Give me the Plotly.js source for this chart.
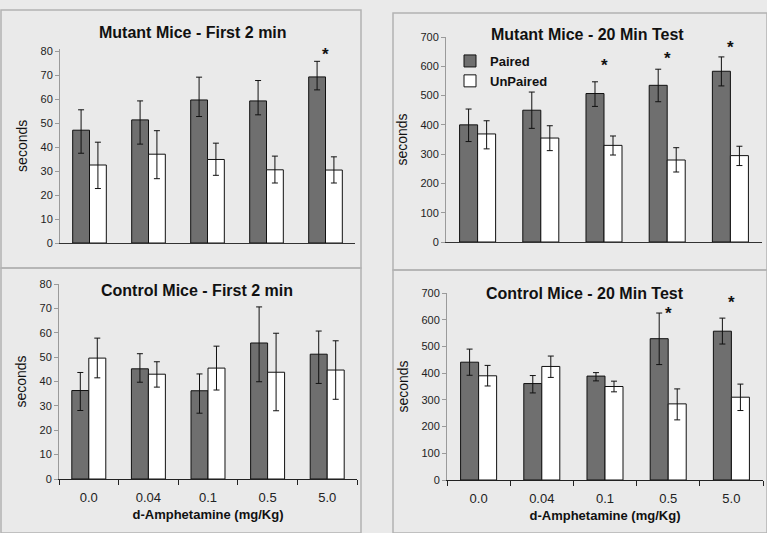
<!DOCTYPE html>
<html>
<head>
<meta charset="utf-8">
<script src="https://cdn.plot.ly/plotly-3.0.1.min.js"></script>
<style>html,body{margin:0;padding:0;background:#e9e9e9;}#chart{width:767px;height:533px;}</style>
</head>
<body>
<div id="chart"></div>
<script>
// ---- data ----
const doses = ["0.0", "0.04", "0.1", "0.5", "5.0"];
const seriesNames = ["Paired", "UnPaired"];

// Mutant Mice - First 2 min
const mutant2Paired     = [47, 51.3, 59.6, 59.2, 69.2];
const mutant2PairedHi   = [55.5, 59.2, 69.1, 67.7, 75.7];
const mutant2PairedLo   = [37.4, 41.2, 52.7, 53.4, 63.8];
const mutant2Unpaired   = [32.5, 37, 34.8, 30.5, 30.4];
const mutant2UnpairedHi = [42, 46.8, 41.6, 36.2, 35.9];
const mutant2UnpairedLo = [22.7, 26.8, 28.2, 25, 25];
const mutant2Stars      = [null, null, null, null, 80.4];

// Mutant Mice - 20 Min Test
const mutant20Paired     = [400, 450, 507, 535, 583];
const mutant20PairedHi   = [454, 512, 547, 590, 632];
const mutant20PairedLo   = [343, 388, 463, 479, 533];
const mutant20Unpaired   = [369, 355, 330, 280, 295];
const mutant20UnpairedHi = [414, 397, 362, 322, 327];
const mutant20UnpairedLo = [318, 312, 297, 239, 261];
const mutant20Stars      = [null, null, 615, 640, 678];

// Control Mice - First 2 min
const control2Paired     = [36.3, 45.2, 36.2, 55.8, 51.2];
const control2PairedHi   = [43.7, 51.4, 43.1, 70.6, 60.7];
const control2PairedLo   = [28.1, 39.7, 27, 39.9, 39.2];
const control2Unpaired   = [49.6, 43, 45.5, 43.8, 44.7];
const control2UnpairedHi = [57.8, 48.1, 54.5, 59.8, 56.7];
const control2UnpairedLo = [41.5, 37.7, 36.5, 28, 32.7];
const control2Stars      = [null, null, null, null, null];

// Control Mice - 20 Min Test
const control20Paired     = [441, 361, 389, 529, 557];
const control20PairedHi   = [490, 391, 402, 625, 606];
const control20PairedLo   = [392, 326, 371, 432, 509];
const control20Unpaired   = [390, 425, 350, 285, 310];
const control20UnpairedHi = [429, 464, 370, 341, 359];
const control20UnpairedLo = [352, 384, 330, 225, 260];
const control20Stars      = [null, null, null, 637, 681];

const panelTitles = ["Mutant Mice - First 2 min", "Mutant Mice - 20 Min Test",
                     "Control Mice - First 2 min", "Control Mice - 20 Min Test"];
const xTitle = "d-Amphetamine (mg/Kg)";
const yTitle = "seconds";

// ---- build ----
const FONT = "Liberation Sans, Arial, sans-serif";
const fills = ["#6f6f6f", "#ffffff"];

function barTrace(name, idx, y, hi, lo, axis, showLegend) {
  return {
    type: "bar", name: name, x: doses, y: y,
    xaxis: "x" + axis, yaxis: "y" + axis,
    showlegend: showLegend, legendgroup: name,
    marker: {color: fills[idx], line: {color: "#111", width: 1}},
    error_y: {type: "data", symmetric: false,
      array: hi.map((h, i) => +(h - y[i]).toFixed(2)),
      arrayminus: lo.map((l, i) => +(y[i] - l).toFixed(2)),
      color: "#111", thickness: 1, width: 3},
    hoverinfo: "x+y"
  };
}

const panels = [
  {p: mutant2Paired, ph: mutant2PairedHi, pl: mutant2PairedLo, u: mutant2Unpaired, uh: mutant2UnpairedHi, ul: mutant2UnpairedLo, s: mutant2Stars, ax: "", leg: false},
  {p: mutant20Paired, ph: mutant20PairedHi, pl: mutant20PairedLo, u: mutant20Unpaired, uh: mutant20UnpairedHi, ul: mutant20UnpairedLo, s: mutant20Stars, ax: "2", leg: true},
  {p: control2Paired, ph: control2PairedHi, pl: control2PairedLo, u: control2Unpaired, uh: control2UnpairedHi, ul: control2UnpairedLo, s: control2Stars, ax: "3", leg: false},
  {p: control20Paired, ph: control20PairedHi, pl: control20PairedLo, u: control20Unpaired, uh: control20UnpairedHi, ul: control20UnpairedLo, s: control20Stars, ax: "4", leg: false}
];

const traces = [];
const annotations = [];
panels.forEach(pn => {
  traces.push(barTrace(seriesNames[0], 0, pn.p, pn.ph, pn.pl, pn.ax, pn.leg));
  traces.push(barTrace(seriesNames[1], 1, pn.u, pn.uh, pn.ul, pn.ax, pn.leg));
  pn.s.forEach((v, i) => {
    // x given as category index (doses[i])
    if (v !== null) annotations.push({
      xref: "x" + pn.ax, yref: "y" + pn.ax, x: i, y: v, text: "*",
      showarrow: false, yanchor: "middle", yshift: -4,
      font: {family: FONT, size: 17, color: "#111", weight: 700}
    });
  });
});

// panel titles (paper coords)
const W = 767, H = 533;
const titlePos = [[193, 33], [587, 35], [197, 290], [585, 293]];
panelTitles.forEach((t, i) => annotations.push({
  xref: "paper", yref: "paper", x: titlePos[i][0] / W, y: 1 - titlePos[i][1] / H,
  xanchor: "center", yanchor: "middle", text: t, showarrow: false,
  font: {family: FONT, size: 16, color: "#111", weight: 700}
}));

function rect(x0, y0, x1, y1) {
  return {type: "rect", xref: "paper", yref: "paper",
    x0: x0 / W, x1: x1 / W, y0: 1 - y1 / H, y1: 1 - y0 / H,
    line: {color: "#b3b3b3", width: 1.5}, fillcolor: "rgba(0,0,0,0)", layer: "below"};
}
const shapes = [rect(1, 10, 361, 268), rect(393, 13, 767, 270), rect(1, 268, 361, 533), rect(393, 270, 767, 533)];

function yax(domain, range, dtick, anchor) {
  return {domain: domain, range: range, dtick: dtick, anchor: anchor,
    showgrid: false, zeroline: false, showline: true, linecolor: "#9a9a9a", linewidth: 1,
    ticks: "outside", ticklen: 4, tickcolor: "#9a9a9a",
    tickfont: {family: FONT, size: 11, color: "#222"},
    title: {text: yTitle, standoff: 9, font: {family: FONT, size: 14, color: "#111"}},
    fixedrange: true};
}
function xaxTop(domain, anchor) {
  return {domain: domain, anchor: anchor, type: "category", showgrid: false, zeroline: false,
    showline: true, linecolor: "#333", linewidth: 1, ticks: "", showticklabels: false, fixedrange: true};
}
function xaxBottom(domain, anchor) {
  return {domain: domain, anchor: anchor, type: "category", showgrid: false, zeroline: false,
    showline: true, linecolor: "#222", linewidth: 1.2, ticks: "outside", tickson: "boundaries",
    ticklen: 5, tickcolor: "#222", tickfont: {family: FONT, size: 13, color: "#222"},
    ticklabelstandoff: 6,
    title: {text: xTitle, standoff: 6, font: {family: FONT, size: 13, color: "#111", weight: 700}},
    fixedrange: true};
}

const layout = {
  width: W, height: H,
  margin: {l: 0, r: 0, t: 0, b: 0},
  paper_bgcolor: "#eaeaea", plot_bgcolor: "rgba(0,0,0,0)",
  barmode: "group", bargap: 0.43, bargroupgap: 0,
  font: {family: FONT, color: "#222"},
  showlegend: true,
  legend: {x: 450 / W, y: 1 - 46 / H, xanchor: "left", yanchor: "top",
    bgcolor: "rgba(0,0,0,0)", font: {family: FONT, size: 13, color: "#111", weight: 700},
    traceorder: "normal", itemwidth: 30, tracegroupgap: 0},
  xaxis:  xaxTop([60 / W, 355 / W], "y"),
  yaxis:  yax([1 - 243 / H, 1 - 48.6 / H], [0, 81], 10, "x"),
  xaxis2: xaxTop([446 / W, 762 / W], "y2"),
  yaxis2: yax([1 - 242 / H, 1 - 37 / H], [0, 700], 100, "x2"),
  xaxis3: xaxBottom([59 / W, 357 / W], "y3"),
  yaxis3: yax([1 - 479 / H, 1 - 284 / H], [0, 80], 10, "x3"),
  xaxis4: xaxBottom([447 / W, 763 / W], "y4"),
  yaxis4: yax([1 - 480 / H, 1 - 293 / H], [0, 700], 100, "x4"),
  annotations: annotations,
  shapes: shapes
};

Plotly.newPlot("chart", traces, layout, {displayModeBar: false, staticPlot: true});
</script>
</body>
</html>
